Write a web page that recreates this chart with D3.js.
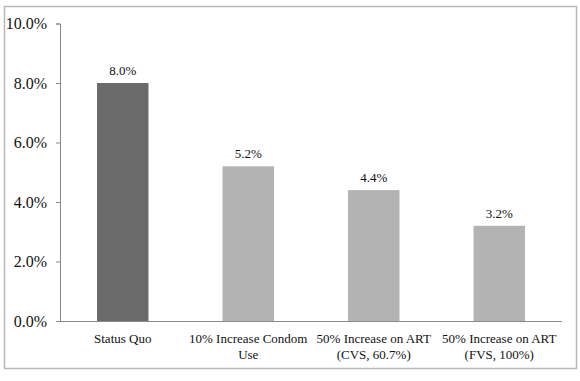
<!DOCTYPE html>
<html><head><meta charset="utf-8">
<script src="https://cdn.jsdelivr.net/npm/d3@7"></script>
<style>body{margin:0;background:#fff}svg{display:block}</style>
</head><body>
<script>
const categories = [["Status Quo"], ["10% Increase Condom", "Use"], ["50% Increase on ART", "(CVS, 60.7%)"], ["50% Increase on ART", "(FVS, 100%)"]];
const values = [8.0, 5.2, 4.4, 3.2];
const valueLabels = ["8.0%", "5.2%", "4.4%", "3.2%"];
const barColors = ["#6b6b6b", "#b3b3b3", "#b3b3b3", "#b3b3b3"];
const yTicks = [0, 2, 4, 6, 8, 10];

(function() {
const W = 580, H = 381;
const svg = d3.select("body").append("svg").attr("width", W).attr("height", H);
const font = "'Liberation Serif', 'Times New Roman', serif";

svg.append("rect").attr("x", 4.5).attr("y", 6.5).attr("width", 572).attr("height", 362)
  .attr("fill", "#fff").attr("stroke", "#b8b8b8").attr("stroke-width", 1.5);

const mLeft = 60, mRight = 562, mTop = 23.5, mBottom = 321;
const x = d3.scaleBand().domain(d3.range(categories.length)).range([mLeft, mRight]).paddingInner(0.59).paddingOuter(0.295);
const y = d3.scaleLinear().domain([0, 10]).range([mBottom, mTop]);

svg.selectAll("rect.bar").data(values).enter().append("rect").attr("class", "bar")
  .attr("x", (d, i) => x(i)).attr("width", x.bandwidth())
  .attr("y", d => y(d)).attr("height", d => y(0) - y(d))
  .attr("fill", (d, i) => barColors[i]);

const yAxis = svg.append("g").attr("transform", `translate(${mLeft},0)`)
  .call(d3.axisLeft(y).tickValues(yTicks).tickSize(4).tickPadding(9).tickFormat(d => d.toFixed(1) + "%"));
yAxis.select(".domain").attr("stroke", "#8a8a8a");
yAxis.selectAll(".tick line").attr("stroke", "#8a8a8a");
yAxis.selectAll("text").attr("font-family", font).attr("font-size", 16).attr("fill", "#111");

svg.append("line").attr("x1", mLeft).attr("x2", mRight).attr("y1", mBottom + 0.5).attr("y2", mBottom + 0.5)
  .attr("stroke", "#8a8a8a");

svg.selectAll("text.vl").data(values).enter().append("text").attr("class", "vl")
  .attr("x", (d, i) => x(i) + x.bandwidth() / 2).attr("y", d => y(d) - 8)
  .attr("text-anchor", "middle").attr("font-family", font).attr("font-size", 13).attr("fill", "#111")
  .text((d, i) => valueLabels[i]);

const cl = svg.selectAll("text.cl").data(categories).enter().append("text").attr("class", "cl")
  .attr("text-anchor", "middle").attr("font-family", font).attr("font-size", 13).attr("fill", "#111");
cl.each(function(d, i) {
  const t = d3.select(this);
  d.forEach((line, j) => {
    t.append("tspan").attr("x", x(i) + x.bandwidth() / 2).attr("y", 343 + j * 16).text(line);
  });
});
})();
</script>
</body></html>
